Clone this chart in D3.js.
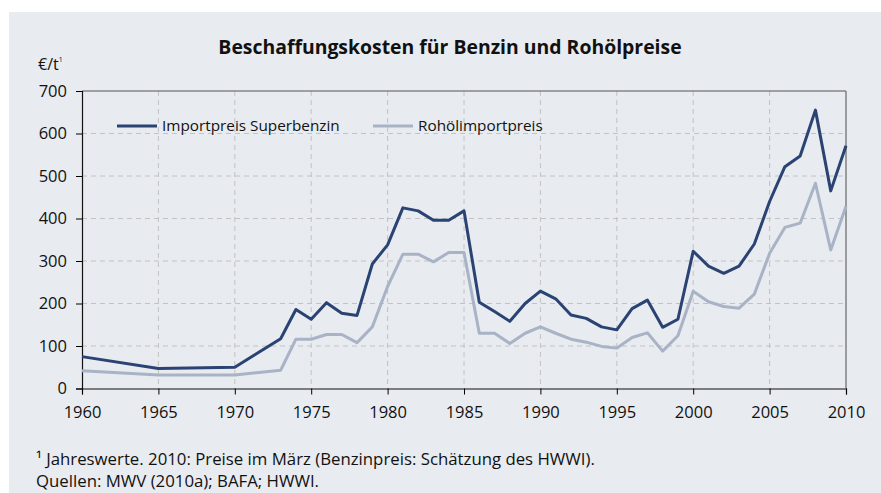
<!DOCTYPE html>
<html><head><meta charset="utf-8">
<script src="https://cdn.jsdelivr.net/npm/d3@7"></script>
<style>body{margin:0;background:#fff}svg{display:block}text{font-family:"Open Sans",sans-serif;fill:#111}</style>
</head><body><svg id="c" width="881" height="493"></svg>
<script>
const years = [1960,1965,1970,1973,1974,1975,1976,1977,1978,1979,1980,1981,1982,1983,1984,1985,1986,1987,1988,1989,1990,1991,1992,1993,1994,1995,1996,1997,1998,1999,2000,2001,2002,2003,2004,2005,2006,2007,2008,2009,2010];
const benzin = [75,47,50,117,186,163,202,177,172,293,338,425,418,396,396,418,203,181,158,200,229,211,173,165,145,138,188,208,144,163,323,288,271,288,340,440,522,547,655,465,571];
const rohoel = [42,32,32,43,116,116,127,127,108,145,240,316,316,298,320,320,130,130,106,130,145,130,116,109,99,95,120,131,88,124,229,204,193,189,222,318,379,389,483,326,429];
const seriesNames = ["Importpreis Superbenzin","Rohölimportpreis"];
const seriesColors = ["#2a4373","#a9b3c6"];
const yTicks = [0,100,200,300,400,500,600,700];
const xTicks = [1960,1965,1970,1975,1980,1985,1990,1995,2000,2005,2010];
const title = "Beschaffungskosten für Benzin und Rohölpreise";
const footnotes = ["¹ Jahreswerte. 2010: Preise im März (Benzinpreis: Schätzung des HWWI).","Quellen: MWV (2010a); BAFA; HWWI."];

const svg = d3.select("#c");
svg.append("rect").attr("x",9).attr("y",12).attr("width",872).attr("height",481).attr("fill","#e8ebf0");
const L=82,R=846,T=91,B=388.5;
const x = d3.scaleLinear().domain([1960,2010]).range([L,R]);
const y = d3.scaleLinear().domain([0,700]).range([B,T]);

// grid
const g = svg.append("g");
g.selectAll(".hg").data(yTicks.slice(1,-1)).join("line")
 .attr("x1",L).attr("x2",R).attr("y1",d=>y(d)).attr("y2",d=>y(d))
 .attr("stroke","#c2c2c2").attr("stroke-width",1).attr("stroke-dasharray","5,4");
g.selectAll(".vg").data(xTicks.slice(1,-1)).join("line")
 .attr("y1",T).attr("y2",B).attr("x1",d=>x(d)).attr("x2",d=>x(d))
 .attr("stroke","#c2c2c2").attr("stroke-width",1).attr("stroke-dasharray","5,4");
// frame top/right
svg.append("line").attr("x1",L).attr("x2",R).attr("y1",T).attr("y2",T).attr("stroke","#555").attr("stroke-width",1.2);
svg.append("line").attr("x1",R).attr("x2",R).attr("y1",T).attr("y2",B).attr("stroke","#666").attr("stroke-width",1.2);

// axes
const ya = svg.append("g").attr("transform",`translate(${L},0)`)
 .call(d3.axisLeft(y).tickValues(yTicks).tickSize(6).tickPadding(9));
ya.select(".domain").attr("stroke","#111").attr("stroke-width",1.2);
ya.selectAll("text").style("font-size","16.5px").style("font-family","Open Sans");
const xa = svg.append("g").attr("transform",`translate(0,${B})`)
 .call(d3.axisBottom(x).tickValues(xTicks).tickFormat(d3.format("d")).tickSize(6).tickPadding(12));
xa.select(".domain").attr("stroke","#111").attr("stroke-width",1.2);
xa.selectAll("text").style("font-size","16.5px").style("font-family","Open Sans");

// lines
const line = d3.line().x((d,i)=>x(years[i])).y(d=>y(d));
[rohoel,benzin].forEach((s,k)=>{
  svg.append("path").datum(s).attr("d",line).attr("fill","none")
   .attr("stroke",k===0?seriesColors[1]:seriesColors[0]).attr("stroke-width",3).attr("stroke-linejoin","round");
});

// legend
const legX=[117,373];
seriesNames.forEach((n,i)=>{
  svg.append("line").attr("x1",legX[i]).attr("x2",legX[i]+40).attr("y1",126).attr("y2",126).attr("stroke",seriesColors[i]).attr("stroke-width",3);
  svg.append("text").attr("x",legX[i]+45).attr("y",131).style("font-size","15.3px").text(n);
});

// title, unit
svg.append("text").attr("x",450).attr("y",54).attr("text-anchor","middle").style("font-size","19.4px").style("font-weight","bold").text(title);
const u = svg.append("text").attr("x",38).attr("y",70).style("font-size","16px");
u.append("tspan").text("€/t");
u.append("tspan").attr("dy",-8).style("font-size","7px").text("1");

footnotes.forEach((f,i)=>{
  svg.append("text").attr("x",36).attr("y",465+i*22).style("font-size","16.8px").text(f);
});
</script></body></html>
